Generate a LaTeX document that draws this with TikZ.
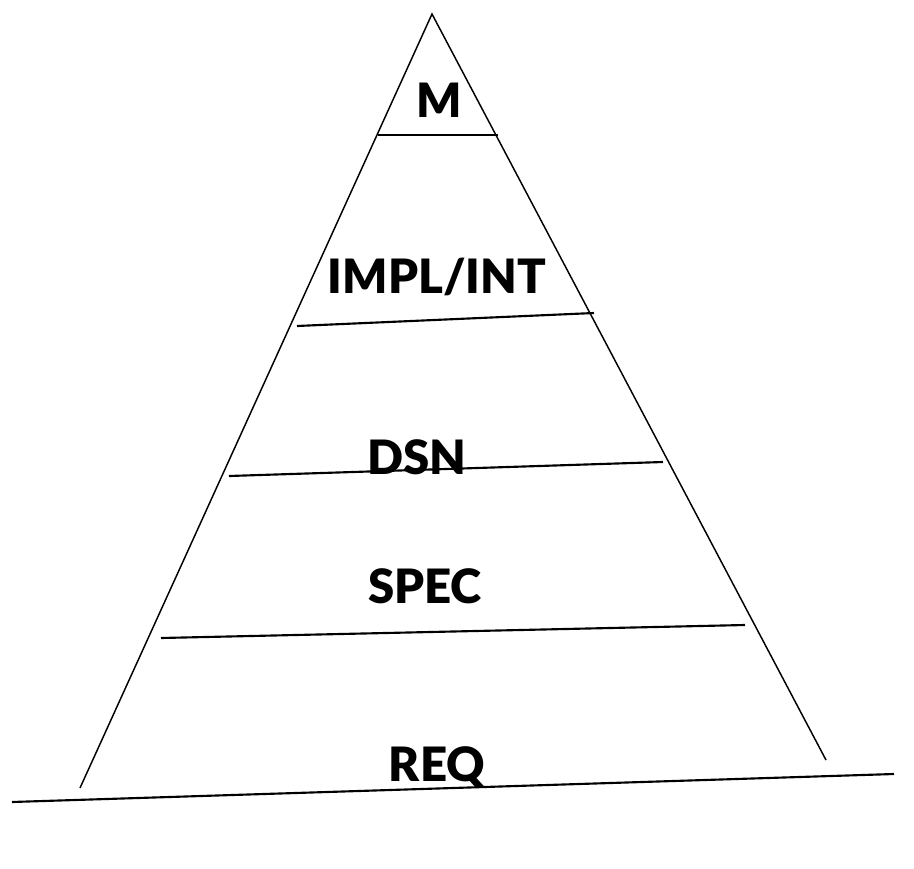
\documentclass[tikz,border=0pt]{standalone}
\usepackage{fontspec}
\setmainfont{Lato}[BoldFont={Lato Black}]
\begin{document}
\begin{tikzpicture}[x=0.75pt,y=-0.75pt,
  side/.style={line width=1.1pt},
  tier/.style={line width=1.6pt},
  lbl/.style={font=\fontsize{35.5}{38}\selectfont\bfseries, inner sep=0pt, anchor=center}]
\useasboundingbox (0,0) rectangle (914,868);
\coordinate (apex) at (432,14);
\coordinate (bl) at (80,788);
\coordinate (br) at (826,760);
\draw[side] (bl) -- (apex) -- (br);
\draw[tier] (378,135) -- (498,135);
\draw[tier] (297,326) -- (594,313);
\draw[tier] (229,476) -- (663,462);
\draw[tier] (161,638) -- (745,625);
\draw[tier] (12,802) -- (894,774);
\node[lbl] (m) at (439,100) {M};
\node[lbl] (impl) at (437,277) {IMPL/INT};
\node[lbl] (dsn) at (417,457) {DSN};
\node[lbl] (spec) at (425,586) {SPEC};
\node[lbl] (req) at (437,767) {REQ};
\end{tikzpicture}
\end{document}
